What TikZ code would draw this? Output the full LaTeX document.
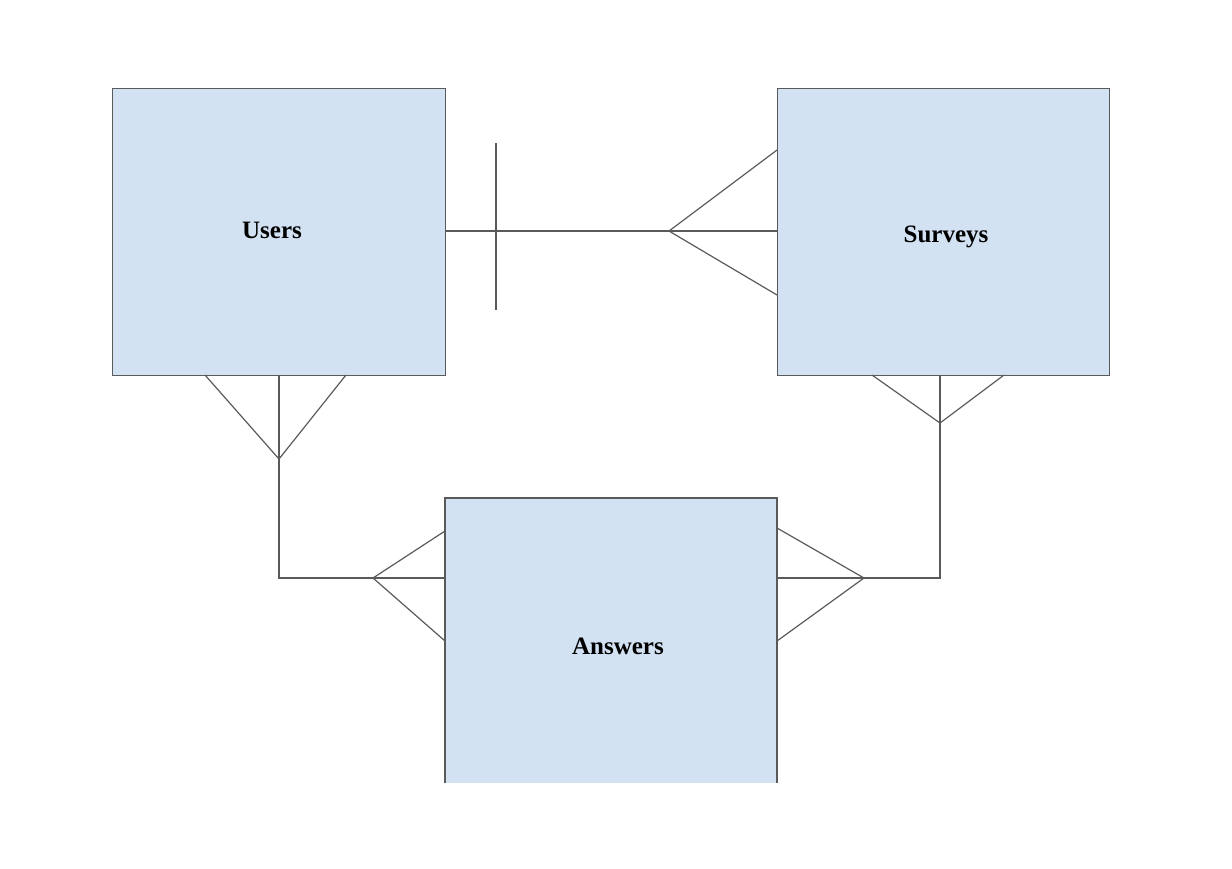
\documentclass[tikz,border=0pt]{standalone}
\usepackage{fontspec}
\setmainfont{Liberation Serif}
\definecolor{boxfill}{HTML}{D3E2F3}
\definecolor{edge}{HTML}{5A5A5A}
\begin{document}
\begin{tikzpicture}[x=1pt,y=-1pt,
  ent/.style={fill=boxfill,draw=edge,line width=1pt},
  lnk/.style={draw=edge,line width=1.2pt},
  lbl/.style={font=\fontsize{25}{28}\selectfont\bfseries,text=black}]
\useasboundingbox (0,0) rectangle (1232,868);
% entity boxes
\path[ent] (112,88) rectangle (445,375);
\node[lbl] (users) at (272,230) {Users};
\path[ent] (777,88) rectangle (1109,375);
\node[lbl] (surveys) at (946,237) {Surveys};
\fill[boxfill] (445,498) rectangle (777,783);
\draw[lnk] (445,783) -- (445,498) -- (777,498) -- (777,783);
\node[lbl] (answers) at (618,646) {Answers};
% named anchor points
\coordinate (uR) at (445,231);
\coordinate (sL) at (777,231);
\coordinate (uB) at (279,375);
\coordinate (sB) at (940,375);
\coordinate (aL) at (445,578);
\coordinate (aR) at (777,578);
% Users -- Surveys
\draw[lnk] (uR) -- (sL);
\draw[lnk] (496,143) -- (496,310);
\draw[lnk] (777,150) -- (669,231) -- (777,295);
% Users -- Answers
\draw[lnk] (uB) -- (279,578) -- (aL);
\draw[lnk] (205,375) -- (279,459) -- (346,375);
\draw[lnk] (445,531) -- (373,578) -- (445,641);
% Surveys -- Answers
\draw[lnk] (sB) -- (940,578) -- (aR);
\draw[lnk] (872,375) -- (940,423) -- (1004,375);
\draw[lnk] (777,528) -- (864,578) -- (777,641);
\end{tikzpicture}
\end{document}
